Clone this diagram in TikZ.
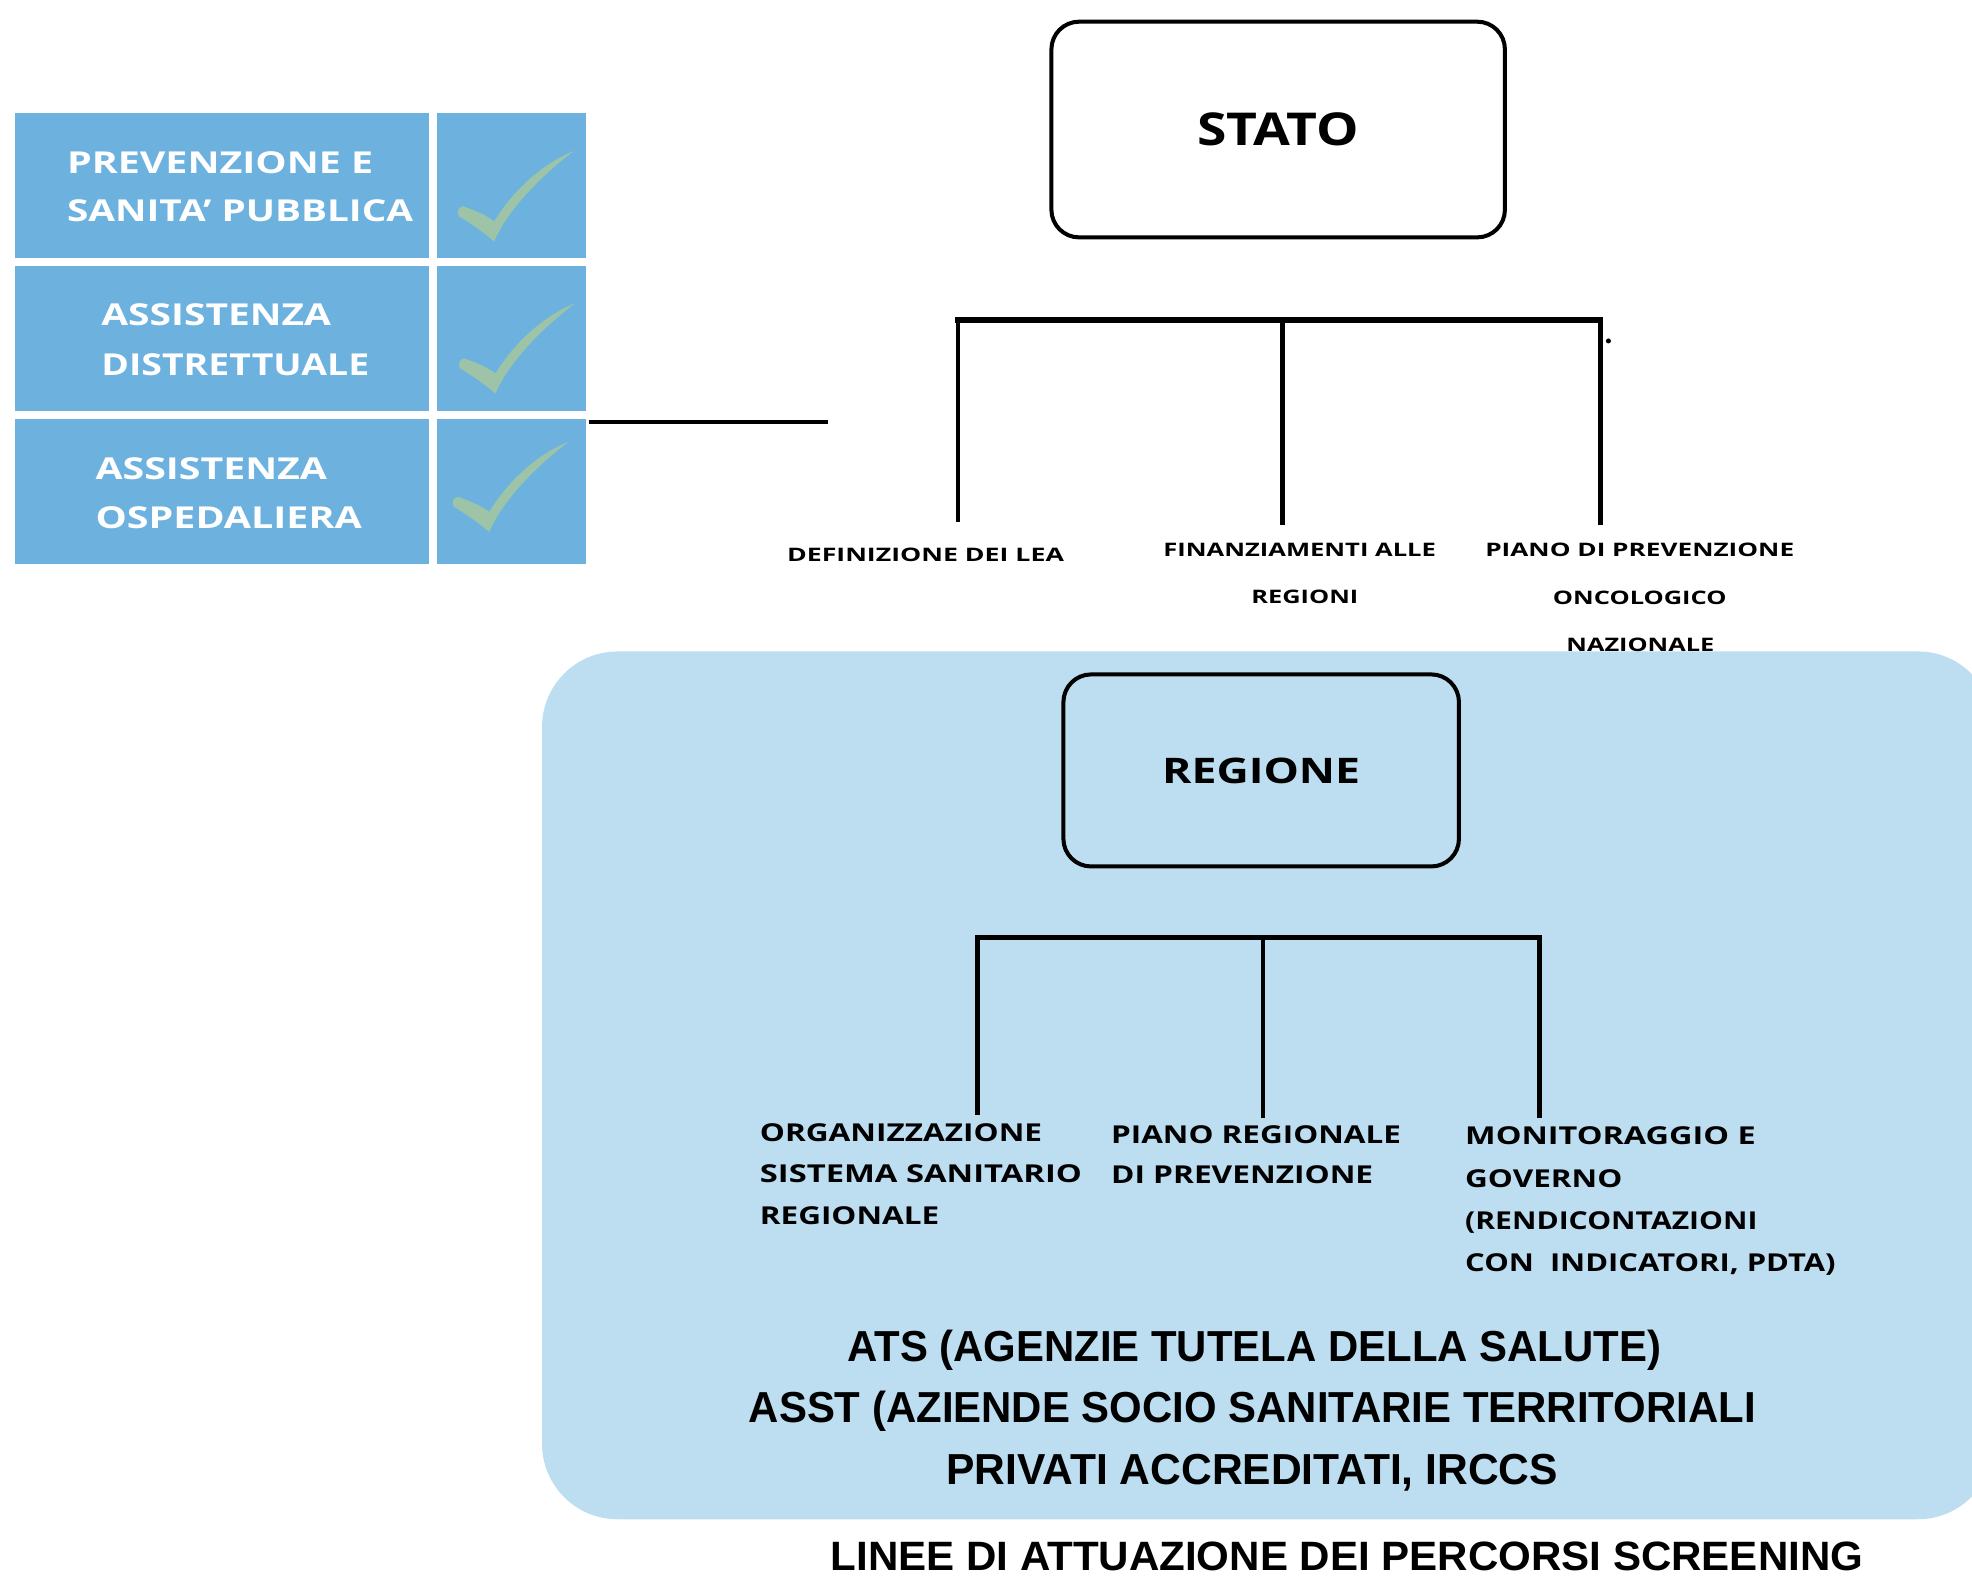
\documentclass[tikz,border=0pt]{standalone}
\usepackage{fontspec}
\usepackage{graphicx}
\newfontfamily\os{Open Sans}
\newfontfamily\ar{Liberation Sans}
\definecolor{boxblue}{HTML}{6DB2DF}
\definecolor{regblue}{HTML}{BDDDF0}
\definecolor{chkgreen}{HTML}{9EC4A8}
\newcommand{\fw}[3]{\resizebox{#1pt}{\height}{\fontsize{#2pt}{#2pt}\selectfont #3}}
\newcommand{\chk}[1]{%
  \fill[chkfill, shift={#1}] (21,74) .. controls (29,77) and (38,80) .. (46,86)
     .. controls (62,60) and (85,40) .. (109.5,30)
     .. controls (80,52) and (55,80) .. (46,102)
     .. controls (38,95) and (28,88) .. (18,82)
     .. controls (16,79) and (17,75) .. (21,74) -- cycle;}
\tikzset{
  lbox/.style={fill=boxblue, draw=none, inner sep=0, outer sep=0, minimum height=57.5pt},
  wtxt/.style={inner sep=0, outer sep=0, anchor=base west, text=white, font=\os\bfseries},
  ltxt/.style={inner sep=0, outer sep=0, anchor=base west, text=black, font=\os\bfseries},
  ctxt/.style={inner sep=0, outer sep=0, anchor=base, text=black, font=\ar\bfseries},
  mainbox/.style={draw=black, line width=1.6pt, rounded corners=11pt, inner sep=0, font=\os\bfseries},
  chkfill/.style={fill=chkgreen},
  bar/.style={line width=2.3pt, line cap=butt},
  stem/.style={line width=1.9pt, line cap=butt},
}
\begin{document}
\begin{tikzpicture}[x=0.5pt, y=-0.5pt]
\useasboundingbox (0,0) rectangle (1568,1256);
\clip (0,0) rectangle (1568,1256);

% region background
\fill[regblue, rounded corners=30pt] (431,518) rectangle (1585,1208);

% left boxes
\node[lbox, minimum width=164.3pt] (b1) at (176.5,147.75) {};
\node[lbox, minimum width=164.3pt] (b2) at (176.5,269.4) {};
\node[lbox, minimum width=164.3pt] (b3) at (176.5,391) {};
\node[lbox, minimum width=59.05pt] (c1) at (406.5,147.75) {};
\node[lbox, minimum width=59.05pt] (c2) at (406.5,269.4) {};
\node[lbox, minimum width=59.05pt] (c3) at (406.5,391) {};
\chk{(347,90)}
\chk{(348,211)}
\chk{(343,321)}
\node[wtxt] (t1a) at (53.3,137.8) {\fw{121.7}{12}{PREVENZIONE E}};
\node[wtxt] (t1b) at (53.3,176.3) {\fw{137.6}{12}{SANITA’ PUBBLICA}};
\node[wtxt] (t2a) at (80.6,259) {\fw{91.3}{12}{ASSISTENZA}};
\node[wtxt] (t2b) at (80.6,298.2) {\fw{106.5}{12}{DISTRETTUALE}};
\node[wtxt] (t3a) at (76,380.9) {\fw{92}{12}{ASSISTENZA}};
\node[wtxt] (t3b) at (76,420) {\fw{105.8}{12}{OSPEDALIERA}};

% stub line
\coordinate (sa) at (468,335.3);
\coordinate (sb) at (658,335.3);
\draw[line width=1.6pt] (sa) -- (sb);

% STATO
\node[mainbox, fill=white, minimum width=180.3pt, minimum height=85.75pt] (stato) at (1016.3,103) {\fw{64.5}{18}{STATO}};

% STATO bracket
\coordinate (k1) at (761.7,254.7);
\coordinate (k2) at (1019.7,254.7);
\coordinate (k3) at (1272.4,254.7);
\coordinate (e1) at (761.7,414.8);
\coordinate (e2) at (1019.7,417.4);
\coordinate (e3) at (1272.4,417.4);
\draw[stem] (k1) -- (e1);
\draw[stem] (k2) -- (e2);
\draw[stem] (k3) -- (e3);
\draw[bar] ([xshift=-1pt]k1) -- ([xshift=1pt]k3);
\fill (1278.9,271.1) circle (2);

\node[ltxt] (l1) at (625.8,446.6) {\fw{110.1}{7.4}{DEFINIZIONE DEI LEA}};
\node[ltxt] (l2a) at (925,442.6) {\fw{108.4}{7.4}{FINANZIAMENTI ALLE}};
\node[ltxt] (l2b) at (995,479.7) {\fw{42.5}{7.4}{REGIONI}};
\node[ltxt] (l3a) at (1181,442.6) {\fw{122.8}{7.4}{PIANO DI PREVENZIONE}};
\node[ltxt] (l3b) at (1234.8,481) {\fw{69}{7.4}{ONCOLOGICO}};
\node[ltxt] (l3c) at (1245.5,518.1) {\fw{58.8}{7.4}{NAZIONALE}};

% REGIONE
\node[mainbox, minimum width=157.25pt, minimum height=76.35pt] (regione) at (1002.8,612.6) {\fw{78.7}{14}{REGIONE}};

\coordinate (m1) at (777.5,745.4);
\coordinate (m2) at (1004.3,745.4);
\coordinate (m3) at (1224.2,745.4);
\coordinate (f1) at (777.5,886.5);
\coordinate (f2) at (1004.3,888.8);
\coordinate (f3) at (1224.2,888.8);
\draw[stem] (m1) -- (f1);
\draw[stem] (m2) -- (f2);
\draw[stem] (m3) -- (f3);
\draw[bar, line width=2.2pt] ([xshift=-1pt]m1) -- ([xshift=1pt]m3);

\node[ltxt] (r1a) at (604.2,908) {\fw{112.2}{9.8}{ORGANIZZAZIONE}};
\node[ltxt] (r1b) at (604.2,940.1) {\fw{128}{9.8}{SISTEMA SANITARIO}};
\node[ltxt] (r1c) at (604.2,973.5) {\fw{71.3}{9.8}{REGIONALE}};
\node[ltxt] (r2a) at (883.5,908.9) {\fw{115.2}{9.8}{PIANO REGIONALE}};
\node[ltxt] (r2b) at (883.5,940.7) {\fw{104.2}{9.8}{DI PREVENZIONE}};
\node[ltxt] (r3a) at (1165,909.9) {\fw{115.5}{9.8}{MONITORAGGIO E}};
\node[ltxt] (r3b) at (1165,944) {\fw{62.5}{9.8}{GOVERNO}};
\node[ltxt] (r3c) at (1165,977.6) {\fw{116.2}{9.8}{(RENDICONTAZIONI}};
\node[ltxt] (r3d) at (1165,1011) {\fw{147.3}{9.8}{CON\ \ INDICATORI, PDTA)}};

% bottom texts
\node[ctxt] (ats) at (997.2,1082.7) {\fw{323.5}{17.25}{ATS (AGENZIE TUTELA DELLA SALUTE)}};
\node[ctxt] (asst) at (995.7,1131.2) {\fw{400.3}{17.25}{ASST (AZIENDE SOCIO SANITARIE TERRITORIALI}};
\node[ctxt] (priv) at (995.7,1180.2) {\fw{243.1}{17.25}{PRIVATI ACCREDITATI, IRCCS}};
\node[ctxt] (title) at (1071,1249) {\fw{410.5}{16.3}{LINEE DI ATTUAZIONE DEI PERCORSI SCREENING}};
\end{tikzpicture}
\end{document}
